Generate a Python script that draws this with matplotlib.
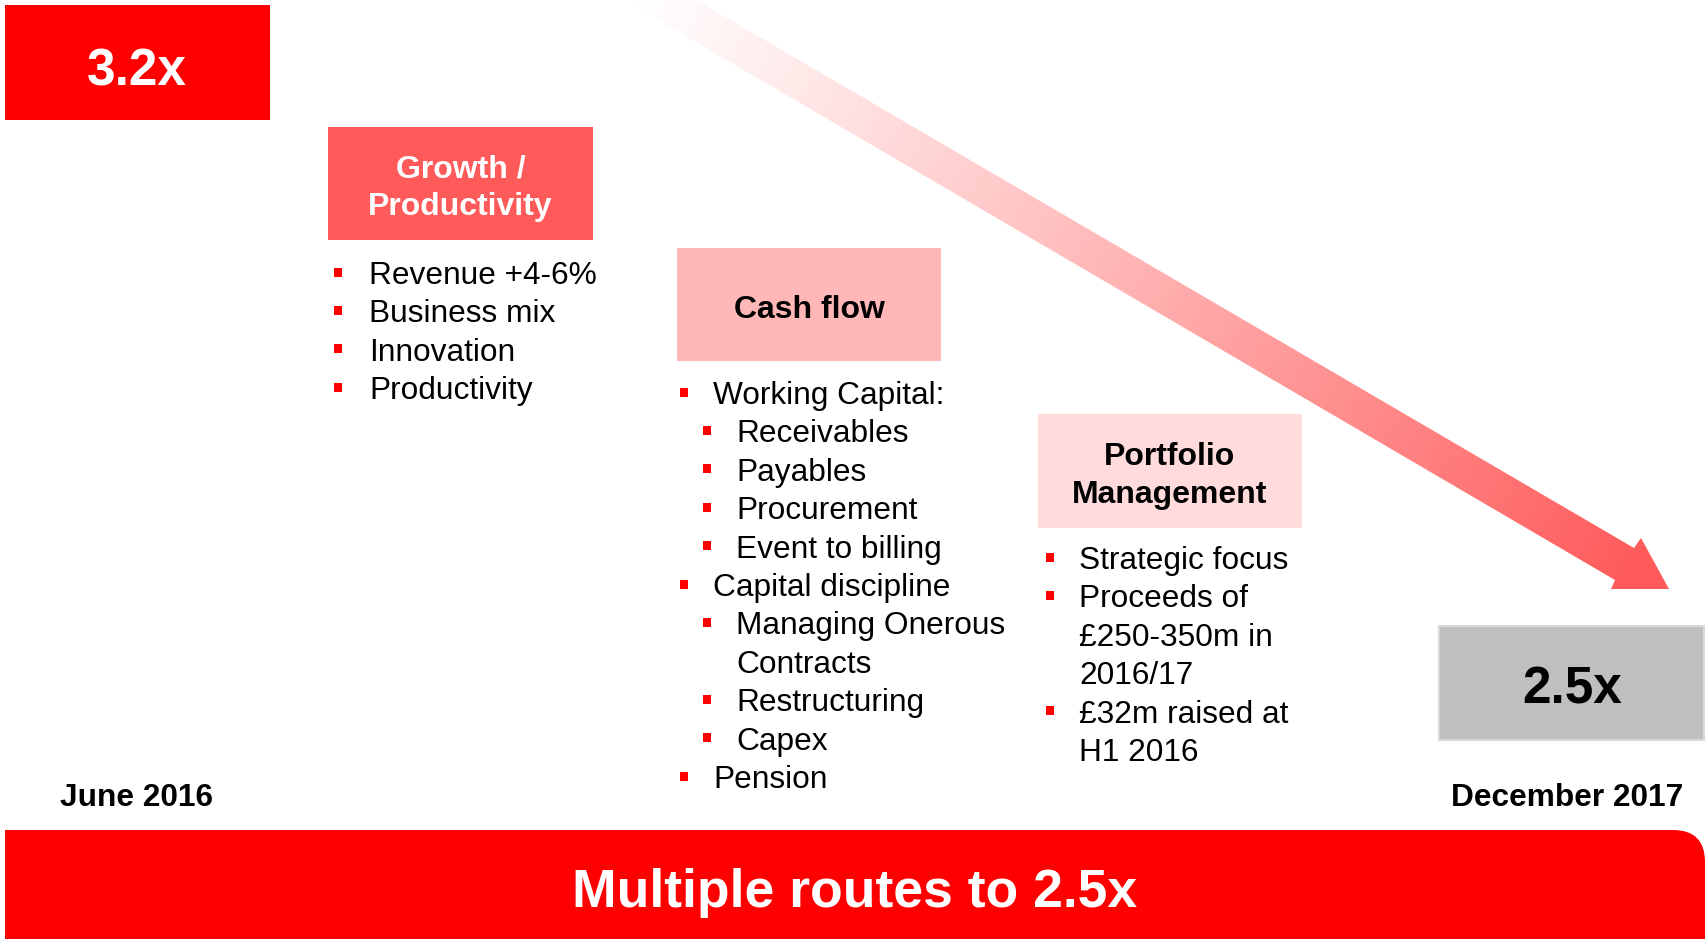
import numpy as np
import matplotlib.pyplot as plt
from matplotlib.patches import Rectangle, Polygon, FancyBboxPatch

FONT = 'Liberation Sans'
W, H = 1705, 939

# =====================================================
# Content
# =====================================================

start_label = '3.2x'
target_label = '2.5x'
start_date = 'June 2016'
end_date = 'December 2017'
banner = 'Multiple routes to 2.5x'

headers = ['Growth /\nProductivity', 'Cash flow', 'Portfolio\nManagement']

# (indent level, has bullet, text)
growth_items = [
    (0, True, 'Revenue +4-6%'),
    (0, True, 'Business mix'),
    (0, True, 'Innovation'),
    (0, True, 'Productivity'),
]

cash_items = [
    (0, True, 'Working Capital:'),
    (1, True, 'Receivables'),
    (1, True, 'Payables'),
    (1, True, 'Procurement'),
    (1, True, 'Event to billing'),
    (0, True, 'Capital discipline'),
    (1, True, 'Managing Onerous'),
    (1, False, 'Contracts'),
    (1, True, 'Restructuring'),
    (1, True, 'Capex'),
    (0, True, 'Pension'),
]

portfolio_items = [
    (0, True, 'Strategic focus'),
    (0, True, 'Proceeds of'),
    (0, False, '£250-350m in'),
    (0, False, '2016/17'),
    (0, True, '£32m raised at'),
    (0, False, 'H1 2016'),
]

RED = '#FF0000'
BOX_COLORS = ['#FF5A5A', '#FFB7B7', '#FFDBDB']
HEADER_TEXT = ['white', 'black', 'black']


# =====================================================
# Helpers
# =====================================================

def draw_box(ax, x0, y0, x1, y1, color, ec='none', lw=0):
    ax.add_patch(Rectangle((x0, y0), x1 - x0, y1 - y0, facecolor=color,
                           edgecolor=ec, linewidth=lw, zorder=3))


def draw_items(ax, items, bullet_x, text_x, first_baseline, step=38.4, indent=23):
    for i, (lvl, bullet, txt) in enumerate(items):
        base = first_baseline + i * step
        if bullet:
            bx = bullet_x + lvl * indent
            ax.add_patch(Rectangle((bx - 4, base - 16.5), 8, 9,
                                   facecolor=RED, edgecolor='none', zorder=4))
        ax.text(text_x + lvl * indent, base, txt, fontsize=22.8,
                family=FONT, color='black', va='baseline', ha='left', zorder=4)


def draw_arrow(ax):
    pts = np.array([
        (662, -20),
        (1634, 548),
        (1641, 538),
        (1669, 589),
        (1611, 589),
        (1615, 580),
        (590, -20),
    ])
    poly = Polygon(pts, closed=True, facecolor='none', edgecolor='none')
    ax.add_patch(poly)

    x0, x1, y0, y1 = 570, 1700, -20, 600
    xs = np.linspace(x0, x1, 600)
    ys = np.linspace(y0, y1, 330)
    X, Y = np.meshgrid(xs, ys)
    d = np.array([0.866, 0.5])
    proj = X * d[0] + Y * d[1]
    p0 = 630 * d[0]
    p1 = 1640 * d[0] + 570 * d[1]
    t = np.clip((proj - p0) / (p1 - p0), 0, 1)

    img = np.zeros(X.shape + (4,))
    img[..., 0] = 1.0
    img[..., 1] = 0.35
    img[..., 2] = 0.35
    img[..., 3] = t ** 1.1
    im = ax.imshow(img, extent=(x0, x1, y1, y0), origin='upper',
                   interpolation='bilinear', zorder=1, aspect='auto')
    im.set_clip_path(poly)


# =====================================================
# Main
# =====================================================

def main():
    fig = plt.figure(figsize=(W / 100, H / 100), dpi=100)
    ax = fig.add_axes([0, 0, 1, 1])
    ax.set_xlim(0, W)
    ax.set_ylim(H, 0)
    ax.axis('off')

    draw_arrow(ax)

    # start value
    draw_box(ax, 5, 5, 270, 120, RED)
    ax.text(137, 85, start_label, fontsize=37, fontweight='bold', family=FONT,
            color='white', ha='center', va='baseline', zorder=4)

    # target value
    draw_box(ax, 1439, 626, 1704, 740, '#BFBFBF', ec='#D9D9D9', lw=1.5)
    ax.text(1572, 703, target_label, fontsize=37, fontweight='bold', family=FONT,
            color='black', ha='center', va='baseline', zorder=4)

    # lever boxes
    boxes = [(328, 127, 593, 240), (677, 248, 941, 361), (1038, 414, 1302, 528)]
    for (bx0, by0, bx1, by1), head, col, tc in zip(boxes, headers, BOX_COLORS, HEADER_TEXT):
        draw_box(ax, bx0, by0, bx1, by1, col)
        ax.text((bx0 + bx1) / 2, (by0 + by1) / 2 + 5, head, fontsize=23,
                fontweight='bold', family=FONT, color=tc, ha='center',
                va='center', linespacing=1.33, zorder=4)

    draw_items(ax, growth_items, 338, 369, 284)
    draw_items(ax, cash_items, 684, 713, 404)
    draw_items(ax, portfolio_items, 1050, 1079, 569)

    # dates
    ax.text(60, 806, start_date, fontsize=22.8, fontweight='bold', family=FONT,
            ha='left', va='baseline', zorder=4)
    ax.text(1683, 806, end_date, fontsize=22.8, fontweight='bold', family=FONT,
            ha='right', va='baseline', zorder=4)

    # bottom banner
    ax.add_patch(FancyBboxPatch((5, 830), 1700, 160,
                                boxstyle='round,pad=0,rounding_size=32',
                                facecolor=RED, edgecolor='none', zorder=3))
    ax.add_patch(Rectangle((5, 830), 200, 109, facecolor=RED,
                           edgecolor='none', zorder=3))
    ax.text(855, 907, banner, fontsize=38.5, fontweight='bold', family=FONT,
            color='white', ha='center', va='baseline', zorder=4)

    fig.savefig('out.png', dpi=100)


if __name__ == "__main__":
    main()
